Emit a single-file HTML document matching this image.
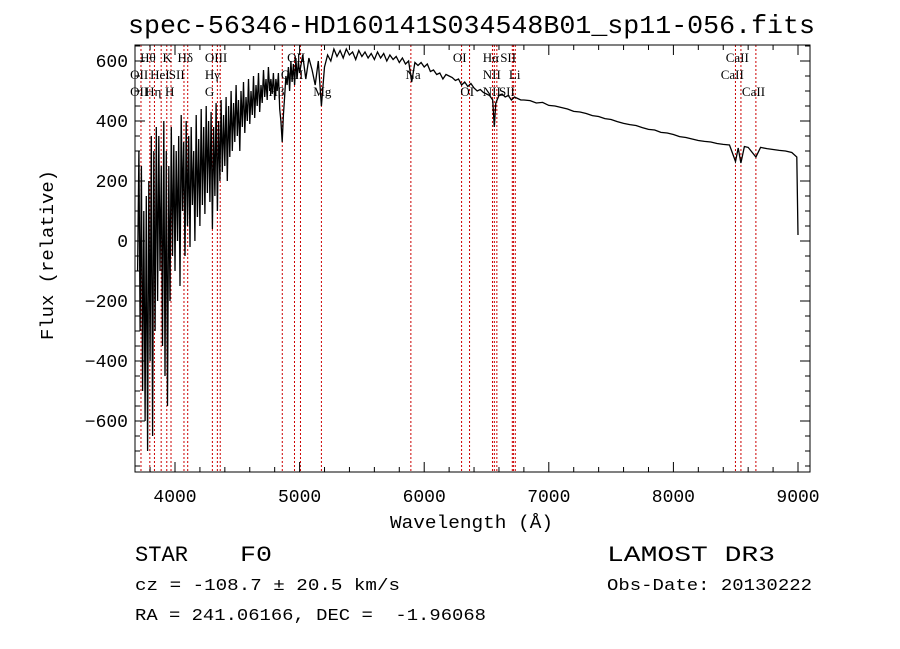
<!DOCTYPE html>
<html><head><meta charset="utf-8"><style>
body{margin:0;background:#fff;width:900px;height:649px;overflow:hidden}
svg{display:block}
</style></head><body>
<svg id="chart" width="900" height="649" xmlns="http://www.w3.org/2000/svg">
<text x="128" y="33" textLength="687" lengthAdjust="spacingAndGlyphs" font-family="Liberation Mono, monospace" font-size="26">spec-56346-HD160141S034548B01_sp11-056.fits</text>
<g id="lines"></g>
<g id="labels" font-family="Liberation Serif, serif" font-size="13"></g>
<polyline id="spec" fill="none" stroke="#000" stroke-width="1.3"/>
<rect x="135" y="45" width="675" height="427" fill="none" stroke="#000" stroke-width="1"/>
<g id="ticks" stroke="#000" stroke-width="1"></g>
<g id="tlabels" font-family="Liberation Mono, monospace" font-size="18"></g>
<text x="390" y="528" textLength="163" lengthAdjust="spacingAndGlyphs" font-family="Liberation Mono, monospace" font-size="18">Wavelength (Å)</text>
<text transform="translate(53,340) rotate(-90)" textLength="170" lengthAdjust="spacingAndGlyphs" font-family="Liberation Mono, monospace" font-size="18">Flux (relative)</text>
<g font-family="Liberation Mono, monospace">
<text x="135" y="561" font-size="22" textLength="53" lengthAdjust="spacingAndGlyphs">STAR</text>
<text x="240" y="561" font-size="22" textLength="32" lengthAdjust="spacingAndGlyphs">F0</text>
<text x="607" y="561" font-size="22" textLength="168" lengthAdjust="spacingAndGlyphs">LAMOST DR3</text>
<text x="135" y="590" font-size="17" textLength="265" lengthAdjust="spacingAndGlyphs">cz = -108.7 ± 20.5 km/s</text>
<text x="607" y="590" font-size="17" textLength="205" lengthAdjust="spacingAndGlyphs">Obs-Date: 20130222</text>
<text x="135" y="620" font-size="17" textLength="351" lengthAdjust="spacingAndGlyphs" xml:space="preserve">RA = 241.06166, DEC =  -1.96068</text>
</g>
</svg>
<script>
const xTicks=[4000,5000,6000,7000,8000,9000];
const yTicks=[-600,-400,-200,0,200,400,600];
const lineWaves=[3727,3798,3835,3889,3934,3968,4072,4102,4300,4340,4363,4861,4959,5007,5175,5893,6300,6364,6548,6563,6583,6707,6716,6731,8498,8542,8662];
const labelText=["Hθ","K","Hδ","OIII","OII","OI","Hα","SII","CaII","OII","HeI","SII","Hγ","OIII","Na","NII","Li","CaII","OII","Hη","H","G","Hβ","Mg","OI","NII","SII","CaII"];
const labelWave=[3720,3900,4020,4240,4900,6230,6470,6610,8420,3640,3800,3950,4240,4850,5850,6470,6680,8380,3640,3760,3920,4240,4750,5110,6290,6470,6600,8550];
const labelRow=[0,0,0,0,0,0,0,0,0,1,1,1,1,1,1,1,1,1,2,2,2,2,2,2,2,2,2,2];
const waves=[3700,3710,3720,3730,3740,3750,3760,3770,3780,3790,3800,3810,3820,3830,3840,3850,3860,3870,3880,3890,3900,3910,3920,3930,3940,3950,3960,3970,3980,3990,4000,4010,4020,4030,4040,4050,4060,4070,4080,4090,4100,4110,4120,4130,4140,4150,4160,4170,4180,4190,4200,4210,4220,4230,4240,4250,4260,4270,4280,4290,4300,4310,4320,4330,4340,4350,4360,4370,4380,4390,4400,4410,4420,4430,4440,4450,4460,4470,4480,4490,4500,4510,4520,4530,4540,4550,4560,4570,4580,4590,4600,4610,4620,4630,4640,4650,4660,4670,4680,4690,4700,4710,4720,4730,4740,4750,4760,4770,4780,4790,4800,4810,4820,4830,4840,4850,4860,4870,4880,4890,4900,4910,4920,4930,4940,4950,4960,4970,4980,4990,5000,5025,5050,5075,5100,5125,5150,5175,5200,5225,5250,5275,5300,5325,5350,5375,5400,5425,5450,5475,5500,5525,5550,5575,5600,5625,5650,5675,5700,5725,5750,5775,5800,5825,5850,5875,5900,5925,5950,5975,6000,6025,6050,6075,6100,6125,6150,6175,6200,6225,6250,6275,6300,6325,6350,6375,6400,6425,6450,6475,6500,6525,6550,6563,6575,6600,6625,6650,6675,6700,6725,6750,6775,6800,6850,6900,6950,7000,7050,7100,7150,7200,7250,7300,7350,7400,7450,7500,7550,7600,7650,7700,7750,7800,7850,7900,7950,8000,8050,8100,8150,8200,8250,8300,8350,8400,8450,8498,8520,8542,8570,8600,8662,8700,8750,8800,8850,8900,8950,8990,9000];
const flux=[-100,300,-300,250,-500,100,-600,150,-700,200,-400,350,-650,300,-300,380,-200,350,-100,250,-350,400,-450,300,-550,250,-200,380,-50,320,-100,300,0,350,-150,420,100,330,-50,400,50,350,-20,380,120,300,0,420,80,340,50,440,120,380,90,450,160,400,130,430,40,380,150,460,100,400,200,470,230,420,250,480,200,450,280,500,300,460,330,520,350,470,300,500,380,530,360,480,400,540,390,500,420,550,410,520,450,560,430,520,460,570,480,540,470,580,500,540,490,560,470,540,500,560,440,400,330,420,480,550,520,580,500,600,530,590,520,610,540,600,560,620,540,610,570,520,600,450,580,620,600,640,615,635,610,640,620,630,605,635,615,630,610,625,605,630,610,625,600,620,605,615,595,610,590,600,530,595,585,595,580,590,565,570,555,560,540,555,550,545,535,540,520,530,515,525,510,500,505,495,490,485,470,380,460,485,490,480,485,470,480,475,470,470,468,460,462,452,450,445,440,432,430,425,418,415,408,405,398,392,388,385,378,372,370,362,360,355,348,345,340,335,332,330,325,322,320,265,310,260,315,312,280,312,308,305,302,300,295,280,20];
const X=w=>175+(w-4000)*0.1246;
const Y=f=>241-f*0.3;
const NS="http://www.w3.org/2000/svg";
const lg=document.getElementById('lines');
lineWaves.forEach(w=>{const l=document.createElementNS(NS,'line');


l.setAttribute('x1',X(w));l.setAttribute('x2',X(w));l.setAttribute('y1',45);l.setAttribute('y2',472);
l.setAttribute('stroke','#c00');l.setAttribute('stroke-width','1');l.setAttribute('stroke-dasharray','2,2');lg.appendChild(l);});
const lb=document.getElementById('labels');
labelText.forEach((t,i)=>{const e=document.createElementNS(NS,'text');


e.setAttribute('x',X(labelWave[i]));e.setAttribute('y',62+labelRow[i]*17);e.textContent=t;lb.appendChild(e);});
document.getElementById('spec').setAttribute('points',waves.map((w,i)=>X(w).toFixed(1)+','+Math.min(471,Math.max(46,Y(flux[i]))).toFixed(1)).join(' '));
const tg=document.getElementById('ticks'),tl=document.getElementById('tlabels');
function tk(x1,y1,x2,y2){const l=document.createElementNS(NS,'line');


l.setAttribute('x1',x1);l.setAttribute('y1',y1);l.setAttribute('x2',x2);l.setAttribute('y2',y2);tg.appendChild(l);}
for(let w=3800;w<=9000;w+=200){const x=X(w),m=w%1000===0?10:5;tk(x,472,x,472-m);tk(x,45,x,45+m);}
for(let f=-750;f<=650;f+=50){const y=Y(f),m=f%200===0?10:5;tk(135,y,135+m,y);tk(810,y,810-m,y);}
xTicks.forEach(w=>{const e=document.createElementNS(NS,'text');


e.setAttribute('x',X(w));e.setAttribute('y',502);e.setAttribute('text-anchor','middle');e.textContent=w;tl.appendChild(e);});
yTicks.forEach(f=>{const e=document.createElementNS(NS,'text');


e.setAttribute('x',128);e.setAttribute('y',Y(f)+6);e.setAttribute('text-anchor','end');e.textContent=(f<0?'−':'')+Math.abs(f);tl.appendChild(e);});
</script>
</body></html>
